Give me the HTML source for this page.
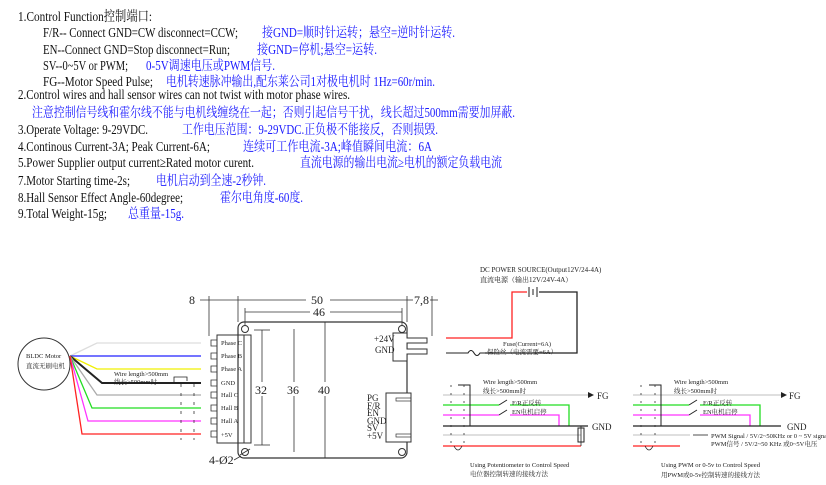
<!DOCTYPE html>
<html><head><meta charset="utf-8"><style>
html,body{margin:0;padding:0;background:#fff;width:826px;height:485px;overflow:hidden}
svg{display:block}
.t{font-family:"Liberation Serif","Noto Serif CJK SC",serif;font-size:14px;fill:#111}
.b{font-family:"Liberation Serif","Noto Serif CJK SC",serif;font-size:13.5px;fill:#1a1aff}
.s{font-family:"Liberation Serif","Noto Serif CJK SC",serif;font-size:6.5px;fill:#222}
.m{font-family:"Liberation Serif","Noto Serif CJK SC",serif;font-size:9px;fill:#222}
.d{font-family:"Liberation Serif",serif;font-size:12px;fill:#222}
</style></head><body>
<svg width="826" height="485" viewBox="0 0 826 485" xmlns="http://www.w3.org/2000/svg">
<g>
<text class="t" x="18" y="21" textLength="134" lengthAdjust="spacingAndGlyphs">1.Control Function控制端口:</text>
<text class="t" x="43" y="37" textLength="195" lengthAdjust="spacingAndGlyphs">F/R-- Connect GND=CW disconnect=CCW;</text><text class="b" x="262" y="37" textLength="193" lengthAdjust="spacingAndGlyphs">接GND=顺时针运转；悬空=逆时针运转.</text>
<text class="t" x="43" y="54" textLength="187" lengthAdjust="spacingAndGlyphs">EN--Connect GND=Stop disconnect=Run;</text><text class="b" x="257" y="54" textLength="120" lengthAdjust="spacingAndGlyphs">接GND=停机;悬空=运转.</text>
<text class="t" x="43" y="70" textLength="85" lengthAdjust="spacingAndGlyphs">SV--0~5V or PWM;</text><text class="b" x="146" y="70" textLength="129" lengthAdjust="spacingAndGlyphs">0-5V调速电压或PWM信号.</text>
<text class="t" x="43" y="86" textLength="110" lengthAdjust="spacingAndGlyphs">FG--Motor Speed Pulse;</text><text class="b" x="166" y="86" textLength="269" lengthAdjust="spacingAndGlyphs">电机转速脉冲输出,配东莱公司1对极电机时 1Hz=60r/min.</text>
<text class="t" x="18" y="99" textLength="332" lengthAdjust="spacingAndGlyphs">2.Control wires and hall sensor wires can not twist with motor phase wires.</text>
<text class="b" x="32" y="117" textLength="483" lengthAdjust="spacingAndGlyphs">注意控制信号线和霍尔线不能与电机线缠绕在一起；否则引起信号干扰，线长超过500mm需要加屏蔽.</text>
<text class="t" x="18" y="134" textLength="130" lengthAdjust="spacingAndGlyphs">3.Operate Voltage: 9-29VDC.</text><text class="b" x="182" y="134" textLength="256" lengthAdjust="spacingAndGlyphs">工作电压范围：9-29VDC.正负极不能接反，否则损毁.</text>
<text class="t" x="18" y="151" textLength="192" lengthAdjust="spacingAndGlyphs">4.Continous Current-3A; Peak Current-6A;</text><text class="b" x="243" y="151" textLength="189" lengthAdjust="spacingAndGlyphs">连续可工作电流-3A;峰值瞬间电流：6A</text>
<text class="t" x="18" y="167" textLength="236" lengthAdjust="spacingAndGlyphs">5.Power Supplier output current≥Rated motor curent.</text><text class="b" x="300" y="167" textLength="202" lengthAdjust="spacingAndGlyphs">直流电源的输出电流≥电机的额定负载电流</text>
<text class="t" x="18" y="185" textLength="112" lengthAdjust="spacingAndGlyphs">7.Motor Starting time-2s;</text><text class="b" x="156" y="185" textLength="110" lengthAdjust="spacingAndGlyphs">电机启动到全速-2秒钟.</text>
<text class="t" x="18" y="202" textLength="165" lengthAdjust="spacingAndGlyphs">8.Hall Sensor Effect Angle-60degree;</text><text class="b" x="220" y="202" textLength="83" lengthAdjust="spacingAndGlyphs">霍尔电角度-60度.</text>
<text class="t" x="18" y="218" textLength="89" lengthAdjust="spacingAndGlyphs">9.Total Weight-15g;</text><text class="b" x="128" y="218" textLength="56" lengthAdjust="spacingAndGlyphs">总重量-15g.</text>
</g>

<!-- motor -->
<circle cx="44" cy="364" r="26" fill="none" stroke="#333" stroke-width="1"/>
<text class="s" x="26" y="358">BLDC Motor</text>
<text class="s" x="26" y="368">直流无刷电机</text>
<g fill="none" stroke-width="1.3">
<polyline points="70,356 97,343 201,343" stroke="#ddd"/>
<polyline points="70,356 201,356" stroke="#2222ff"/>
<polyline points="70,356 97,369 201,369" stroke="#f0f000"/>
<polyline points="70,356 102,383 201,383" stroke="#222" stroke-width="2"/>
<polyline points="70,356 97,395 201,395" stroke="#aaa"/>
<polyline points="70,356 92,408 201,408" stroke="#22dd22"/>
<polyline points="70,356 88,421 201,421" stroke="#ff33ff"/>
<polyline points="70,356 82,434 201,434" stroke="#ff2222"/>
</g>
<text class="s" x="114" y="376">Wire length&gt;500mm</text>
<text class="s" x="114" y="384">线长&gt;500mm时</text>
<polyline points="174,383 174,377 187,377 187,381" fill="none" stroke="#222" stroke-width="0.8"/>
<g stroke="#333" stroke-width="0.8" stroke-dasharray="3,6" fill="none">
<line x1="181" y1="384" x2="181" y2="440"/><line x1="194" y1="384" x2="194" y2="440"/>
</g>
<!-- connector -->
<rect x="217" y="335" width="34" height="108" fill="#fff" stroke="#333"/>
<line x1="244" y1="335" x2="244" y2="443" stroke="#333"/>
<g fill="none" stroke="#333" stroke-width="0.8">
<path d="M217,340 h-6 v6 h6"/><path d="M217,353 h-6 v6 h6"/><path d="M217,366 h-6 v6 h6"/><path d="M217,380 h-6 v6 h6"/>
<path d="M217,392 h-6 v6 h6"/><path d="M217,405 h-6 v6 h6"/><path d="M217,418 h-6 v6 h6"/><path d="M217,431 h-6 v6 h6"/>
</g>
<g class="s"><text x="221" y="345" class="s">Phase C</text><text x="221" y="358" class="s">Phase B</text><text x="221" y="371" class="s">Phase A</text><text x="221" y="385" class="s">GND</text><text x="221" y="397" class="s">Hall C</text><text x="221" y="410" class="s">Hall B</text><text x="221" y="423" class="s">Hall A</text><text x="221" y="437" class="s">+5V</text></g>
<!-- board -->
<rect x="238" y="322" width="169" height="136" rx="6" fill="none" stroke="#333" stroke-width="1.2"/>
<g fill="none" stroke="#333"><circle cx="245" cy="329" r="3.5"/><circle cx="402" cy="329" r="3.5"/><circle cx="245" cy="452" r="3.5"/><circle cx="402" cy="452" r="3.5"/></g>
<line x1="240" y1="455" x2="250" y2="449" stroke="#333"/>
<text class="d" x="209" y="464">4-Ø2</text>
<line x1="234" y1="460" x2="241" y2="456" stroke="#333" stroke-width="0.8"/>
<!-- dims -->
<g stroke="#333" stroke-width="0.8" fill="none">
<line x1="209" y1="296" x2="209" y2="336"/><line x1="238" y1="296" x2="238" y2="322"/><line x1="407" y1="296" x2="407" y2="322"/>
<line x1="245" y1="308" x2="245" y2="326"/><line x1="402" y1="308" x2="402" y2="326"/>
<line x1="432" y1="296" x2="432" y2="336"/>
<line x1="200" y1="300" x2="238" y2="300"/><line x1="238" y1="300" x2="306" y2="300"/><line x1="330" y1="300" x2="407" y2="300"/>
<line x1="407" y1="300" x2="413" y2="300"/><line x1="430" y1="300" x2="438" y2="300"/>
<line x1="245" y1="312" x2="310" y2="312"/><line x1="330" y1="312" x2="402" y2="312"/>
<line x1="262" y1="330" x2="262" y2="382"/><line x1="262" y1="396" x2="262" y2="445"/><line x1="254" y1="330" x2="270" y2="330"/><line x1="254" y1="445" x2="270" y2="445"/>
<line x1="294" y1="329" x2="294" y2="382"/><line x1="294" y1="396" x2="294" y2="452"/>
<line x1="325" y1="322" x2="325" y2="382"/><line x1="325" y1="396" x2="325" y2="458"/>
</g>
<text class="d" x="189" y="304">8</text><text class="d" x="311" y="304">50</text><text class="d" x="313" y="316">46</text><text class="d" x="414" y="304">7,8</text>
<text class="d" x="255" y="394">32</text><text class="d" x="287" y="394">36</text><text class="d" x="318" y="394">40</text>
<!-- power connector -->
<path d="M393,333 h14 v5 h20 v5 h-20 v6 h20 v5 h-20 v7 h-14 z" fill="#fff" stroke="#333"/>
<text class="m" x="374" y="342">+24V</text><text class="m" x="375" y="353">GND</text>
<!-- control connector -->
<rect x="386" y="393" width="25" height="49" fill="#fff" stroke="#333"/>
<rect x="396" y="398" width="15" height="3" fill="none" stroke="#333" stroke-width="0.7"/>
<rect x="396" y="434" width="15" height="3" fill="none" stroke="#333" stroke-width="0.7"/>
<g class="m"><text class="m" x="367" y="401">PG</text><text class="m" x="367" y="409">F/R</text><text class="m" x="367" y="416">EN</text><text class="m" x="367" y="424">GND</text><text class="m" x="367" y="431">SV</text><text class="m" x="367" y="439">+5V</text></g>
<!-- power source -->
<text class="s" x="480" y="272" style="font-size:7px">DC POWER SOURCE(Output12V/24-4A)</text>
<text class="s" x="480" y="282" style="font-size:7px">直流电源（输出12V/24V-4A）</text>
<polyline points="446,338 512,338 512,292 527,292" fill="none" stroke="#ff2222" stroke-width="1.3"/>
<line x1="529" y1="287" x2="529" y2="297" stroke="#222"/><line x1="533" y1="289" x2="533" y2="295" stroke="#222"/><line x1="537" y1="287" x2="537" y2="297" stroke="#222"/>
<polyline points="539,292 577,292 577,353 485,353" fill="none" stroke="#222" stroke-width="1.3"/>
<path d="M446,353 h22 q3,-5 6,0 q3,5 6,0 h5" fill="none" stroke="#222" stroke-width="1.1"/>
<text class="s" x="503" y="346">Fuse(Current=6A)</text><text class="s" x="487" y="354">保险丝（电流需要=6A）</text>
<!-- left circuit -->
<g fill="none" stroke-width="1.3">
<line x1="443" y1="395" x2="588" y2="395" stroke="#ccc"/>
<polyline points="443,405 499,405" stroke="#22dd22"/><polyline points="510,405 569,405 569,426" stroke="#22dd22"/>
<polyline points="443,415 499,415" stroke="#ff33ff"/><polyline points="510,415 559,415 559,426" stroke="#ff33ff"/>
<line x1="443" y1="426" x2="588" y2="426" stroke="#222"/>
<line x1="443" y1="435" x2="581" y2="435" stroke="#ccc"/>
<line x1="443" y1="446" x2="581" y2="446" stroke="#ff2222"/>
<polyline points="470,426 470,385 458,385" stroke="#222" stroke-width="1"/>
<line x1="499" y1="405" x2="507" y2="400" stroke="#222" stroke-width="1"/><line x1="499" y1="415" x2="507" y2="410" stroke="#222" stroke-width="1"/>
<rect x="578" y="428" width="6" height="14" stroke="#222" stroke-width="1"/>
<line x1="581" y1="426" x2="581" y2="446" stroke="#222" stroke-width="0.8"/>
<path d="M454,446 q4,8 8,0" stroke="#222" stroke-width="0.8"/>
</g>
<path d="M588,392 l6,3 l-6,3z" fill="#222"/>
<text class="m" x="597" y="399">FG</text><text class="m" x="592" y="430">GND</text>
<text class="s" x="483" y="384">Wire length&gt;500mm</text><text class="s" x="483" y="393">线长&gt;500mm时</text>
<text class="s" x="512" y="405">F/R正反转</text><text class="s" x="512" y="414">EN电机启停</text>
<g stroke="#333" stroke-width="0.8" stroke-dasharray="2,6"><line x1="451" y1="385" x2="451" y2="446"/><line x1="464" y1="385" x2="464" y2="446"/></g>
<text class="s" x="470" y="467">Using Potentiometer to Control Speed</text>
<text class="s" x="470" y="476">电位器控制转速的接线方法</text>
<!-- right circuit -->
<g fill="none" stroke-width="1.3">
<line x1="633" y1="395" x2="781" y2="395" stroke="#ccc"/>
<polyline points="633,405 689,405" stroke="#22dd22"/><polyline points="700,405 760,405 760,426" stroke="#22dd22"/>
<polyline points="633,415 689,415" stroke="#ff33ff"/><polyline points="700,415 750,415 750,426" stroke="#ff33ff"/>
<line x1="633" y1="426" x2="781" y2="426" stroke="#222"/>
<line x1="633" y1="435" x2="690" y2="435" stroke="#ccc"/>
<line x1="633" y1="446" x2="680" y2="446" stroke="#ff2222"/>
<polyline points="661,426 661,385 649,385" stroke="#222" stroke-width="1"/>
<line x1="689" y1="405" x2="697" y2="400" stroke="#222" stroke-width="1"/><line x1="689" y1="415" x2="697" y2="410" stroke="#222" stroke-width="1"/>
<line x1="693" y1="435" x2="708" y2="435" stroke="#222" stroke-width="0.8"/>
<path d="M645,446 q4,8 8,0" stroke="#222" stroke-width="0.8"/>
</g>
<path d="M781,392 l6,3 l-6,3z" fill="#222"/>
<text class="m" x="789" y="399">FG</text><text class="m" x="787" y="430">GND</text>
<text class="s" x="674" y="384">Wire length&gt;500mm</text><text class="s" x="674" y="393">线长&gt;500mm时</text>
<text class="s" x="703" y="405">F/R正反转</text><text class="s" x="703" y="414">EN电机启停</text>
<text class="s" x="711" y="438">PWM Signal / 5V/2~50KHz or 0 ~ 5V signal</text>
<text class="s" x="711" y="446">PWM信号 / 5V/2~50 KHz 或0~5V电压</text>
<g stroke="#333" stroke-width="0.8" stroke-dasharray="2,6"><line x1="641" y1="385" x2="641" y2="446"/><line x1="655" y1="385" x2="655" y2="446"/></g>
<text class="s" x="661" y="467">Using PWM or 0-5v to Control Speed</text>
<text class="s" x="661" y="477">用PWM或0-5v控制转速的接线方法</text>
</svg>
</body></html>
